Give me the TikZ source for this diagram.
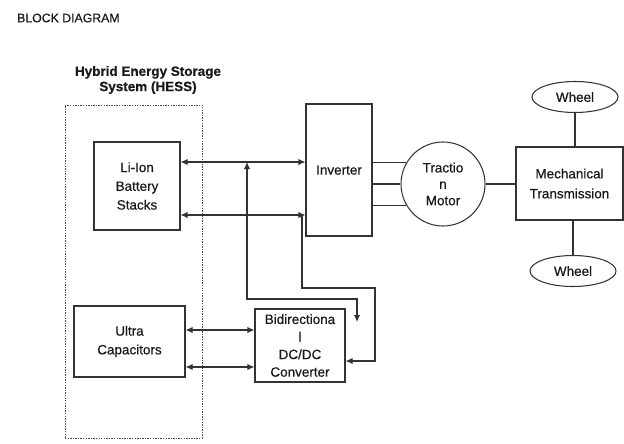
\documentclass[tikz,border=0pt]{standalone}
\usepackage{fontspec}
\setmainfont{Liberation Sans}[FakeBold=0.5]
\usetikzlibrary{arrows.meta,shapes.geometric}

\begin{document}
\begin{tikzpicture}[x=0.3mm, y=-0.3mm, text=black!90,
  font=\fontsize{11.5}{16}\selectfont,
  >={Latex[length=2.1mm,width=1.9mm]},
  blockbox/.style={draw=black!80, line width=0.9pt, inner sep=0pt, align=center},
  wheelnode/.style={ellipse, draw=black!80, line width=0.9pt, inner sep=0pt,
    minimum width=25.8mm, minimum height=9.3mm},
  link/.style={draw=black!80, line width=0.9pt}]
  \useasboundingbox (0,0) rectangle (624,444);

  % Heading.
  \node[anchor=west, font=\fontsize{10.5}{11}\selectfont] (heading) at (13,18) {BLOCK DIAGRAM};

  % Storage system (HESS).
  \node[draw=black!70, dash pattern=on 1.2pt off 1pt, line width=0.8pt,
    minimum width=41.1mm, minimum height=99.9mm] (hess) at (133.5,271.5) {};
  \node[font=\bfseries\fontsize{11.5}{13}\selectfont, align=center] (hesstitle) at (148,80)
    {Hybrid Energy Storage\\System (HESS)};
  \node[blockbox, minimum width=25.8mm, minimum height=26.4mm] (liion) at (137,186)
    {Li-Ion\\Battery\\Stacks};
  \node[blockbox, minimum width=33.3mm, minimum height=21.3mm] (ultra) at (129.5,341.5)
    {Ultra\\Capacitors};

  % Power electronics.
  \node[blockbox, minimum width=19.8mm, minimum height=39.6mm] (inverter) at (339,170) {Inverter};
  \node[blockbox, minimum width=27mm, minimum height=21.9mm,
    font=\fontsize{11.5}{15}\selectfont] (dcdc) at (300,345.5)
    {Bidirectiona\\l\\DC/DC\\Converter};

  % Drive train.
  \node[blockbox, circle, minimum size=25.2mm, font=\fontsize{11.5}{14}\selectfont] (motor) at (443,184)
    {Tractio\\n\\Motor};
  \node[blockbox, minimum width=32.1mm, minimum height=21.9mm, font=\fontsize{11.5}{17}\selectfont]
    (mech) at (569.5,183.5) {Mechanical\\Transmission};
  \node[wheelnode] (wheeltop) at (575,97) {Wheel};
  \node[wheelnode] (wheelbot) at (573,271) {Wheel};

  % DC bus between battery and inverter.
  \coordinate (bushigh) at (247,162);
  \coordinate (buslow) at (302,215);
  \draw[link, <->] (liion.east |- bushigh) -- (inverter.west |- bushigh);
  \draw[link, <->] (liion.east |- buslow) -- (inverter.west |- buslow);

  % Loops down to the converter.
  \coordinate (loopa) at (357,299);
  \coordinate (feedin) at (357,322);
  \draw[link, <->] (bushigh) |- (loopa) -- (feedin);
  \coordinate (loopb) at (375,288);
  \coordinate (feedback) at (375,361);
  \draw[link, ->] (buslow) |- (loopb) -- (feedback) -- (dcdc.east |- feedback);

  % Ultra capacitors to converter.
  \coordinate (storehigh) at (220,330);
  \coordinate (storelow) at (220,367);
  \draw[link, <->] (ultra.east |- storehigh) -- (dcdc.west |- storehigh);
  \draw[link, <->] (ultra.east |- storelow) -- (dcdc.west |- storelow);

  % Three phases, shaft and wheels.
  \foreach \ang in {150,180,210}{
    \draw[link] (inverter.east |- motor.\ang) -- (motor.\ang);
  }
  \draw[link] (motor.east) -- (mech.west |- motor.east);
  \draw[link] (wheeltop.south) -- (wheeltop.south |- mech.north);
  \draw[link] (wheelbot.north |- mech.south) -- (wheelbot.north);
\end{tikzpicture}
\end{document}
